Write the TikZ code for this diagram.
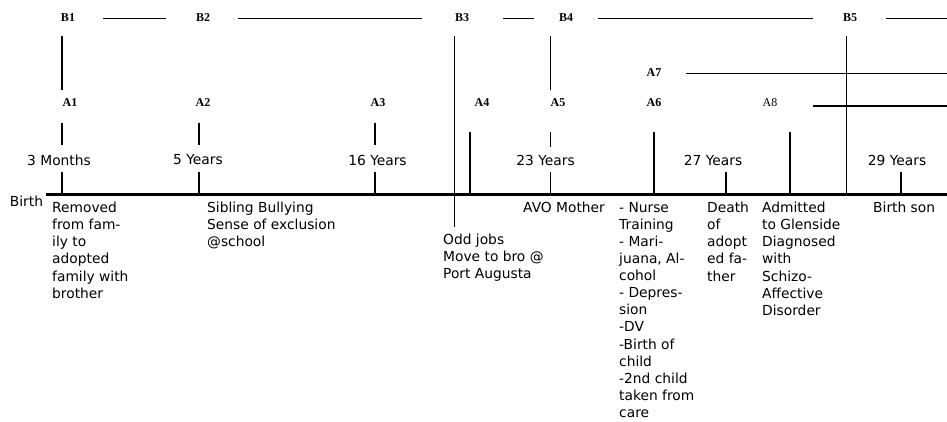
\documentclass[tikz,border=0pt]{standalone}
\usepackage{fontspec}
\setmainfont{Liberation Serif}
\newfontfamily\verdfont{DejaVu Sans}
\tikzset{
	phase/.style={
		font=\bfseries\fontsize{12}{13}\selectfont,
		inner sep=0pt
	},
	phaseplain/.style={
		font=\fontsize{12}{13}\selectfont,
		inner sep=0pt
	},
	age/.style={
		font=\verdfont\fontsize{13.8}{17}\selectfont,
		inner sep=0pt
	},
	event/.style={
		font=\verdfont\fontsize{13.8}{17.1}\selectfont,
		inner sep=0pt,
		align=left,
		anchor=north west
	},
	timeline/.style={line width=3pt},
	tick/.style={line width=1.6pt},
	fine/.style={line width=1pt}
}

\begin{document}
\begin{tikzpicture}[x=1pt,y=-1pt]
	\useasboundingbox (0,0) rectangle (947,421);

	% phase labels
	\node[phase] (B1) at (68,18)  {B1};
	\node[phase] (B2) at (203,18) {B2};
	\node[phase] (B3) at (462,18) {B3};
	\node[phase] (B4) at (566,18) {B4};
	\node[phase] (B5) at (850,18) {B5};
	\node[phase] (A7) at (654,73) {A7};
	\node[phase] (A1) at (70,103)  {A1};
	\node[phase] (A2) at (203,103) {A2};
	\node[phase] (A3) at (378,103) {A3};
	\node[phase] (A4) at (482,103) {A4};
	\node[phase] (A5) at (558,103) {A5};
	\node[phase] (A6) at (654,103) {A6};
	\node[phaseplain] (A8) at (770,103) {A8};

	\coordinate (Bend) at (947,18);
	\coordinate (A7end) at (947,73);
	\coordinate (A8end) at (947,106);

	\draw[fine, shorten <=35pt, shorten >=37pt] (B1.center) -- (B2.center);
	\draw[fine, shorten <=35pt, shorten >=40pt] (B2.center) -- (B3.center);
	\draw[fine, shorten <=41pt, shorten >=32pt] (B3.center) -- (B4.center);
	\draw[fine, shorten <=32pt, shorten >=37pt] (B4.center) -- (B5.center);
	\draw[fine, shorten <=36pt] (B5.center) -- (Bend);
	\draw[fine, shorten <=32pt] (A7.center) -- (A7end);
	\draw[tick] (A8.center) ++(43,3) -- (A8end);

	% main line
	\node[age] (birth) at (26.5,201) {Birth};
	\coordinate (start) at (46,194);
	\coordinate (finish) at (947,194);
	\draw[timeline] (start) -- (finish);

	\coordinate (t1) at (62,194);
	\coordinate (t2) at (199,194);
	\coordinate (t3) at (375,194);
	\coordinate (t4) at (454,194);
	\coordinate (t5) at (470,194);
	\coordinate (t6) at (550,194);
	\coordinate (t7) at (654,194);
	\coordinate (t8) at (726,194);
	\coordinate (t9) at (790,194);
	\coordinate (t10) at (846,194);
	\coordinate (t11) at (901,194);

	% vertical marks
	\draw[tick] (t1) ++(0,-158) -- ++(0,54);
	\draw[tick] (t1) ++(0,-71) -- ++(0,22);
	\draw[tick] (t1) -- ++(0,-22);
	\draw[tick] (t2) ++(0,-71) -- ++(0,22);
	\draw[tick] (t2) -- ++(0,-22);
	\draw[tick] (t3) ++(0,-71) -- ++(0,22);
	\draw[tick] (t3) -- ++(0,-22);
	\draw[fine] (t4) ++(0,-158) -- ++(0,191);
	\draw[tick] (t5) -- ++(0,-62);
	\draw[fine] (t6) ++(0,-158) -- ++(0,54);
	\draw[fine] (t6) ++(0,-62) -- ++(0,15);
	\draw[fine] (t6) -- ++(0,-22);
	\draw[tick] (t7) -- ++(0,-62);
	\draw[tick] (t8) -- ++(0,-22);
	\draw[tick] (t9) -- ++(0,-62);
	\draw[fine] (t10) -- ++(0,-158);
	\draw[tick] (t11) -- ++(0,-22);

	% ages
	\node[age] (m1) at (59,160)    {3 Months};
	\node[age] (m2) at (198,160)   {5 Years};
	\node[age] (m3) at (377.5,160) {16 Years};
	\node[age] (m4) at (545.5,160) {23 Years};
	\node[age] (m5) at (713,160)   {27 Years};
	\node[age] (m6) at (897,160)   {29 Years};

	% events
	\node[event] (e1) at (52,202)  {Removed\\from fam-\\ily to\\adopted\\family with\\brother};
	\node[event] (e2) at (207,202) {Sibling Bullying\\Sense of exclusion\\@school};
	\node[event] (e3) at (443,234) {Odd jobs\\Move to bro @\\Port Augusta};
	\node[event] (e4) at (523,202) {AVO Mother};
	\node[event] (e5) at (619,202) {- Nurse\\Training\\- Mari-\\juana, Al-\\cohol\\- Depres-\\sion\\-DV\\-Birth of\\child\\-2nd child\\taken from\\care};
	\node[event] (e6) at (707,202) {Death\\of\\adopt\\ed fa-\\ther};
	\node[event] (e7) at (762,202) {Admitted\\to Glenside\\Diagnosed\\with\\Schizo-\\Affective\\Disorder};
	\node[event] (e8) at (873,202) {Birth son};
\end{tikzpicture}
\end{document}
